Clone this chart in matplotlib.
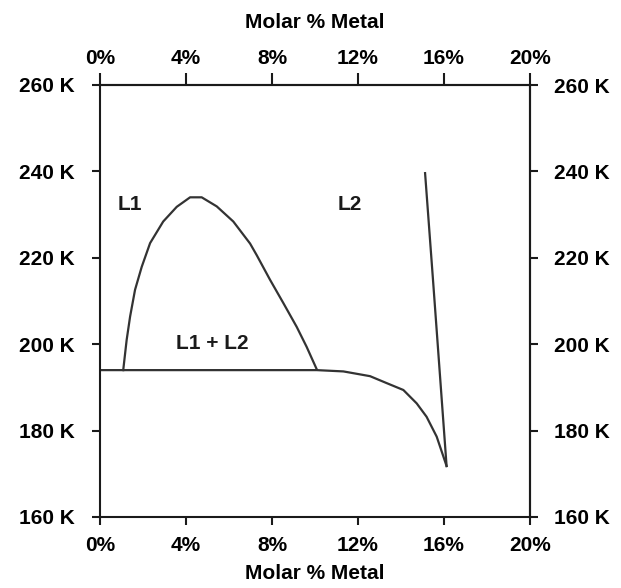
import matplotlib.pyplot as plt

plt.rcParams['font.family'] = ['Liberation Sans Narrow', 'Liberation Sans', 'DejaVu Sans']
plt.rcParams['font.weight'] = 'bold'

# dome (L1 / L2 miscibility gap)
dome_x = [1.08, 1.24, 1.40, 1.63, 1.94, 2.33, 2.94, 3.57, 4.19, 4.73, 5.43, 6.20, 6.98, 7.29, 7.91, 8.53, 9.15, 9.61, 10.08]
dome_t = [194.0, 201.0, 206.4, 212.6, 217.9, 223.4, 228.4, 231.8, 234.0, 234.0, 231.9, 228.4, 223.3, 220.6, 214.9, 209.5, 204.0, 199.4, 194.2]

# horizontal line + falling branch
base_x = [0.0, 10.08, 11.32, 12.56, 13.33, 14.11, 14.73, 15.19, 15.66, 16.12]
base_t = [194.0, 194.0, 193.7, 192.6, 191.0, 189.4, 186.3, 183.2, 178.6, 171.8]

# steep branch
steep_x = [16.12, 15.5, 15.12]
steep_t = [171.8, 214.1, 239.6]

x_ticks = [0, 4, 8, 12, 16, 20]
x_labels = ["0%", "4%", "8%", "12%", "16%", "20%"]
y_ticks = [160, 180, 200, 220, 240, 260]
y_labels = ["160 K", "180 K", "200 K", "220 K", "240 K", "260 K"]

labels = [("L1", 1.37, 232.3), ("L2", 11.63, 232.4), ("L1 + L2", 5.23, 200.2)]

ink = '#1a1a1a'
fs = 15

fig = plt.figure(figsize=(6.21, 5.88), dpi=100)
ax = fig.add_axes([100/621, 71/588, 430/621, 432/588])

ax.plot(dome_x, dome_t, color='#333333', lw=1.6)
ax.plot(base_x, base_t, color='#333333', lw=1.6)
ax.plot(steep_x, steep_t, color='#333333', lw=1.6)

for txt, x, y in labels:
    ax.text(x, y, txt, ha='center', va='center', fontsize=fs, fontweight='bold', color=ink)

ax.set_xlim(0, 20)
ax.set_ylim(160, 260)
for s in ax.spines.values():
    s.set_color(ink)
    s.set_linewidth(1.5)

ax.set_xticks(x_ticks)
ax.set_xticklabels(x_labels)
ax.set_yticks(y_ticks)
ax.set_yticklabels(y_labels)
ax.tick_params(axis='x', direction='out', length=6, width=1.5, color=ink, pad=8, labelsize=fs)
ax.tick_params(axis='y', direction='out', length=6, width=1.5, color=ink, pad=12, labelsize=fs)
ax.set_xlabel("Molar % Metal", fontsize=fs, fontweight='bold', labelpad=6)

top = ax.secondary_xaxis('top')
top.set_xticks(x_ticks)
top.set_xticklabels(x_labels)
top.tick_params(direction='out', length=9, width=1.5, color=ink, pad=3, labelsize=fs)
top.set_xlabel("Molar % Metal", fontsize=fs, fontweight='bold', labelpad=15)
top.spines['top'].set_linewidth(1.5)
top.spines['top'].set_color(ink)

right = ax.secondary_yaxis('right')
right.set_yticks(y_ticks)
right.set_yticklabels(y_labels)
right.tick_params(direction='out', length=6, width=1.5, color=ink, pad=11, labelsize=fs)
right.spines['right'].set_linewidth(1.5)
right.spines['right'].set_color(ink)

fig.savefig("out.png", dpi=100)
